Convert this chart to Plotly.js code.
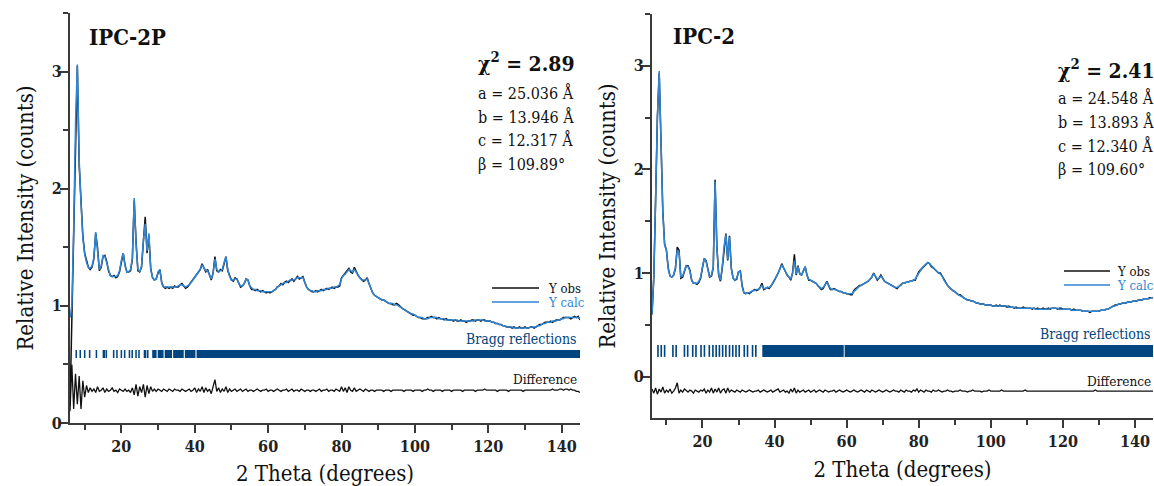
<!DOCTYPE html>
<html><head><meta charset="utf-8">
<script src="https://cdn.plot.ly/plotly-3.0.1.min.js"></script>
<style>html,body{margin:0;padding:0;background:#fff}#chart{width:1154px;height:486px}</style>
</head><body><div id="chart"></div>
<script>
// ---------- DATA ----------
const twoThetaStart = 6;      // degrees, first sample
const twoThetaStep = 0.5;     // degrees between samples

// IPC-2P (left panel)
const yObsL = [
0.15,0.90,1.60,2.50,3.05,2.20,1.90,1.60,1.45,1.38,
1.33,1.31,1.33,1.40,1.62,1.50,1.30,1.33,1.42,1.43,
1.38,1.30,1.26,1.25,1.26,1.24,1.25,1.29,1.38,1.45,
1.35,1.29,1.29,1.30,1.40,1.90,1.55,1.30,1.29,1.33,
1.55,1.76,1.45,1.60,1.32,1.24,1.22,1.23,1.28,1.31,
1.20,1.16,1.15,1.16,1.15,1.16,1.15,1.17,1.16,1.16,
1.18,1.19,1.17,1.15,1.16,1.18,1.20,1.22,1.24,1.26,
1.29,1.31,1.36,1.33,1.29,1.31,1.27,1.22,1.28,1.42,
1.30,1.29,1.31,1.30,1.36,1.42,1.30,1.25,1.22,1.21,
1.24,1.23,1.19,1.16,1.17,1.19,1.23,1.22,1.17,1.14,
1.14,1.13,1.14,1.13,1.12,1.13,1.12,1.11,1.12,1.11,
1.12,1.13,1.14,1.16,1.17,1.19,1.18,1.20,1.21,1.20,
1.22,1.23,1.21,1.23,1.25,1.23,1.24,1.25,1.20,1.16,
1.14,1.13,1.12,1.12,1.13,1.12,1.13,1.14,1.13,1.14,
1.15,1.14,1.15,1.16,1.15,1.16,1.16,1.17,1.24,1.26,
1.27,1.29,1.32,1.29,1.28,1.33,1.29,1.26,1.24,1.22,
1.21,1.22,1.24,1.19,1.14,1.11,1.09,1.08,1.07,1.06,
1.05,1.05,1.04,1.03,1.02,1.02,1.01,1.01,1.02,1.01,
0.99,0.98,0.97,0.96,0.95,0.94,0.93,0.92,0.92,0.91,
0.90,0.90,0.89,0.89,0.89,0.90,0.90,0.91,0.90,0.90,
0.89,0.90,0.89,0.89,0.88,0.89,0.88,0.88,0.88,0.87,
0.88,0.87,0.87,0.88,0.87,0.87,0.86,0.87,0.87,0.88,
0.88,0.87,0.88,0.88,0.87,0.88,0.88,0.87,0.87,0.87,
0.86,0.86,0.85,0.85,0.84,0.84,0.83,0.83,0.82,0.82,
0.82,0.81,0.82,0.81,0.81,0.82,0.81,0.81,0.82,0.81,
0.81,0.82,0.82,0.81,0.82,0.83,0.84,0.84,0.85,0.86,
0.86,0.86,0.87,0.86,0.87,0.88,0.88,0.88,0.89,0.90,
0.90,0.90,0.90,0.89,0.90,0.91,0.90,0.91,0.88];
const yCalcL = [
0.90,1.00,1.65,2.55,3.06,2.25,1.88,1.58,1.44,1.37,
1.33,1.32,1.34,1.41,1.63,1.48,1.31,1.34,1.43,1.42,
1.37,1.30,1.26,1.25,1.25,1.25,1.26,1.30,1.39,1.45,
1.34,1.29,1.29,1.31,1.41,1.92,1.53,1.31,1.29,1.34,
1.56,1.70,1.47,1.62,1.31,1.24,1.22,1.23,1.29,1.31,
1.19,1.16,1.16,1.16,1.16,1.16,1.16,1.16,1.16,1.17,
1.18,1.18,1.17,1.16,1.17,1.18,1.20,1.22,1.24,1.26,
1.29,1.31,1.35,1.33,1.30,1.30,1.27,1.23,1.28,1.40,
1.31,1.29,1.30,1.31,1.37,1.42,1.31,1.25,1.22,1.22,
1.23,1.23,1.19,1.17,1.17,1.19,1.23,1.22,1.17,1.15,
1.14,1.14,1.13,1.13,1.13,1.12,1.12,1.12,1.12,1.12,
1.12,1.13,1.14,1.16,1.17,1.18,1.19,1.20,1.20,1.21,
1.22,1.22,1.22,1.23,1.24,1.24,1.24,1.24,1.20,1.16,
1.14,1.13,1.13,1.12,1.12,1.13,1.13,1.13,1.14,1.14,
1.14,1.15,1.15,1.15,1.16,1.16,1.17,1.18,1.23,1.26,
1.27,1.29,1.31,1.30,1.29,1.31,1.29,1.26,1.24,1.22,
1.22,1.22,1.23,1.19,1.14,1.11,1.09,1.08,1.07,1.06,
1.05,1.05,1.04,1.03,1.02,1.02,1.02,1.01,1.01,1.00,
0.99,0.98,0.97,0.96,0.95,0.94,0.93,0.93,0.92,0.91,
0.90,0.90,0.90,0.89,0.89,0.89,0.90,0.90,0.90,0.90,
0.90,0.89,0.89,0.89,0.89,0.88,0.88,0.88,0.88,0.88,
0.88,0.88,0.87,0.87,0.87,0.87,0.87,0.87,0.87,0.87,
0.87,0.88,0.88,0.88,0.88,0.88,0.87,0.87,0.87,0.87,
0.86,0.86,0.85,0.85,0.84,0.84,0.83,0.83,0.82,0.82,
0.82,0.82,0.81,0.81,0.81,0.81,0.81,0.81,0.81,0.81,
0.81,0.82,0.82,0.82,0.82,0.83,0.83,0.84,0.85,0.85,
0.86,0.86,0.86,0.87,0.87,0.87,0.88,0.88,0.89,0.89,
0.90,0.90,0.90,0.90,0.90,0.90,0.90,0.90,0.89];
const yDiffL = [
0.10,0.50,0.12,0.42,0.16,0.40,0.12,0.36,0.22,0.32,
0.26,0.30,0.27,0.29,0.26,0.31,0.27,0.28,0.30,0.26,
0.29,0.27,0.28,0.30,0.27,0.28,0.26,0.29,0.28,0.27,
0.29,0.27,0.28,0.26,0.30,0.24,0.33,0.23,0.31,0.26,
0.33,0.22,0.32,0.25,0.31,0.27,0.29,0.27,0.29,0.28,
0.27,0.29,0.28,0.27,0.29,0.28,0.27,0.29,0.28,0.28,
0.27,0.29,0.28,0.27,0.28,0.29,0.27,0.28,0.30,0.26,
0.29,0.27,0.31,0.26,0.30,0.27,0.29,0.25,0.31,0.37,
0.27,0.30,0.26,0.29,0.27,0.31,0.26,0.29,0.27,0.28,
0.29,0.27,0.28,0.29,0.27,0.28,0.29,0.27,0.28,0.28,
0.27,0.28,0.29,0.28,0.27,0.28,0.28,0.29,0.27,0.28,
0.28,0.27,0.28,0.29,0.28,0.27,0.28,0.28,0.29,0.27,
0.28,0.29,0.27,0.28,0.28,0.27,0.29,0.28,0.27,0.28,
0.28,0.27,0.28,0.28,0.27,0.28,0.29,0.27,0.28,0.28,
0.29,0.27,0.28,0.28,0.27,0.29,0.28,0.27,0.31,0.27,
0.30,0.26,0.31,0.28,0.27,0.30,0.27,0.28,0.29,0.28,
0.27,0.29,0.28,0.27,0.28,0.28,0.27,0.28,0.28,0.28,
0.28,0.27,0.28,0.28,0.28,0.27,0.28,0.28,0.28,0.28,
0.28,0.28,0.27,0.28,0.28,0.28,0.28,0.27,0.28,0.28,
0.28,0.28,0.27,0.28,0.28,0.29,0.28,0.28,0.27,0.28,
0.28,0.28,0.28,0.27,0.28,0.28,0.28,0.28,0.27,0.28,
0.28,0.28,0.28,0.28,0.27,0.28,0.28,0.28,0.28,0.28,
0.28,0.27,0.28,0.28,0.28,0.28,0.29,0.28,0.28,0.28,
0.28,0.28,0.28,0.27,0.28,0.28,0.28,0.28,0.28,0.27,
0.28,0.28,0.28,0.28,0.28,0.28,0.28,0.27,0.28,0.28,
0.28,0.28,0.28,0.28,0.28,0.28,0.28,0.28,0.28,0.28,
0.28,0.28,0.28,0.29,0.28,0.28,0.28,0.29,0.29,0.28,
0.29,0.29,0.28,0.29,0.28,0.28,0.27,0.27,0.26];
const braggTicksL = [7.7,8.8,10.0,11.35,13.2,15.1,15.35,15.9,17.9,18.8,20.0,20.9,22.2,22.95,24.0,24.8,26.3,26.6,27.2];
const braggBandsL = [[28.4,29.6],[29.9,31.5],[31.8,33.8],[34.1,37.0],[37.3,40.2],[40.5,145]];

// IPC-2 (right panel)
const yObsR = [
0.60,0.95,1.70,2.50,2.93,2.30,1.60,1.28,1.22,1.05,
0.97,0.96,0.98,1.04,1.25,1.22,0.95,0.96,1.03,1.07,
1.07,1.03,0.93,0.90,0.90,0.89,0.91,0.95,1.05,1.14,
1.12,1.04,0.96,0.97,1.05,1.90,1.25,0.98,0.92,1.05,
1.25,1.38,1.12,1.36,1.05,0.95,0.93,0.94,1.01,1.02,
0.88,0.81,0.80,0.81,0.80,0.82,0.83,0.84,0.83,0.84,
0.86,0.90,0.84,0.85,0.86,0.85,0.87,0.90,0.93,0.96,
1.00,1.04,1.09,1.05,1.01,0.98,0.96,0.93,1.00,1.18,
0.98,1.07,0.99,0.98,1.02,1.06,0.98,0.93,0.93,0.92,
0.91,0.90,0.88,0.86,0.84,0.85,0.89,0.92,0.88,0.84,
0.84,0.85,0.84,0.83,0.82,0.82,0.81,0.81,0.80,0.80,
0.79,0.79,0.83,0.85,0.86,0.88,0.88,0.89,0.90,0.91,
0.92,0.94,0.96,1.00,0.97,0.93,0.95,0.98,0.95,0.92,
0.91,0.90,0.89,0.88,0.87,0.86,0.85,0.87,0.89,0.90,
0.90,0.91,0.91,0.92,0.92,0.93,0.93,0.97,1.01,1.03,
1.05,1.07,1.09,1.10,1.09,1.06,1.05,1.03,1.01,1.00,
1.00,0.97,0.93,0.90,0.88,0.86,0.84,0.83,0.82,0.80,
0.79,0.79,0.77,0.76,0.75,0.74,0.74,0.73,0.73,0.72,
0.71,0.71,0.70,0.70,0.70,0.69,0.69,0.69,0.69,0.68,
0.68,0.69,0.68,0.69,0.68,0.68,0.68,0.67,0.68,0.67,
0.67,0.66,0.67,0.66,0.66,0.66,0.67,0.66,0.66,0.66,
0.66,0.65,0.66,0.65,0.66,0.65,0.65,0.66,0.65,0.65,
0.66,0.65,0.66,0.66,0.66,0.65,0.66,0.66,0.65,0.65,
0.65,0.65,0.65,0.64,0.65,0.64,0.64,0.64,0.64,0.63,
0.63,0.63,0.63,0.62,0.63,0.63,0.63,0.63,0.63,0.64,
0.64,0.64,0.65,0.65,0.66,0.67,0.68,0.69,0.69,0.70,
0.70,0.71,0.71,0.71,0.72,0.72,0.72,0.73,0.73,0.73,
0.74,0.74,0.74,0.75,0.75,0.75,0.76,0.76,0.76];
const yCalcR = [
0.60,0.97,1.72,2.52,2.95,2.30,1.58,1.27,1.22,1.04,
0.97,0.96,0.98,1.05,1.22,1.20,0.96,0.97,1.03,1.07,
1.06,1.02,0.93,0.90,0.90,0.90,0.92,0.96,1.06,1.14,
1.11,1.03,0.96,0.98,1.06,1.88,1.24,0.99,0.93,1.06,
1.26,1.37,1.13,1.35,1.04,0.95,0.93,0.95,1.01,1.02,
0.87,0.81,0.80,0.81,0.81,0.82,0.83,0.83,0.84,0.84,
0.86,0.88,0.85,0.85,0.86,0.86,0.87,0.90,0.93,0.96,
1.00,1.04,1.08,1.05,1.01,0.98,0.96,0.94,1.00,1.12,
0.99,1.06,0.99,0.98,1.02,1.06,0.98,0.94,0.93,0.92,
0.91,0.90,0.88,0.86,0.85,0.86,0.89,0.91,0.88,0.85,
0.84,0.84,0.84,0.83,0.82,0.82,0.81,0.81,0.80,0.80,
0.80,0.80,0.82,0.84,0.86,0.87,0.88,0.89,0.90,0.91,
0.92,0.94,0.96,0.99,0.97,0.94,0.95,0.97,0.95,0.92,
0.91,0.90,0.89,0.88,0.87,0.86,0.86,0.87,0.88,0.90,
0.90,0.91,0.91,0.92,0.92,0.93,0.94,0.97,1.00,1.03,
1.05,1.07,1.09,1.10,1.09,1.07,1.05,1.03,1.01,1.00,
0.99,0.97,0.93,0.90,0.88,0.86,0.84,0.83,0.82,0.80,
0.79,0.78,0.77,0.76,0.75,0.74,0.74,0.73,0.73,0.72,
0.71,0.71,0.70,0.70,0.70,0.69,0.69,0.69,0.69,0.68,
0.68,0.68,0.68,0.68,0.68,0.68,0.68,0.68,0.67,0.67,
0.67,0.67,0.66,0.66,0.66,0.66,0.66,0.66,0.66,0.66,
0.66,0.66,0.66,0.65,0.65,0.65,0.65,0.65,0.65,0.65,
0.65,0.66,0.66,0.66,0.66,0.66,0.65,0.65,0.65,0.65,
0.65,0.65,0.65,0.64,0.64,0.64,0.64,0.64,0.64,0.63,
0.63,0.63,0.63,0.63,0.63,0.63,0.63,0.63,0.63,0.64,
0.64,0.64,0.65,0.65,0.66,0.67,0.68,0.68,0.69,0.70,
0.70,0.71,0.71,0.71,0.72,0.72,0.72,0.73,0.73,0.73,
0.74,0.74,0.74,0.75,0.75,0.75,0.75,0.76,0.76];
const yDiffR = [
-0.12,-0.16,-0.11,-0.17,-0.12,-0.15,-0.10,-0.16,-0.13,-0.15,
-0.12,-0.16,-0.14,-0.11,-0.06,-0.16,-0.13,-0.15,-0.12,-0.14,
-0.15,-0.13,-0.14,-0.16,-0.13,-0.14,-0.15,-0.13,-0.14,-0.12,
-0.16,-0.13,-0.15,-0.11,-0.16,-0.12,-0.15,-0.11,-0.16,-0.13,
-0.12,-0.16,-0.11,-0.15,-0.13,-0.14,-0.15,-0.13,-0.14,-0.15,
-0.13,-0.14,-0.15,-0.14,-0.13,-0.14,-0.15,-0.14,-0.14,-0.13,
-0.15,-0.14,-0.13,-0.14,-0.15,-0.14,-0.13,-0.15,-0.14,-0.13,
-0.12,-0.15,-0.14,-0.13,-0.15,-0.14,-0.16,-0.12,-0.15,-0.11,
-0.16,-0.13,-0.15,-0.14,-0.13,-0.15,-0.14,-0.13,-0.15,-0.14,
-0.13,-0.15,-0.14,-0.13,-0.14,-0.15,-0.13,-0.14,-0.15,-0.14,
-0.14,-0.13,-0.15,-0.14,-0.13,-0.14,-0.15,-0.14,-0.13,-0.14,
-0.15,-0.14,-0.13,-0.14,-0.15,-0.14,-0.13,-0.14,-0.15,-0.13,
-0.14,-0.15,-0.13,-0.14,-0.15,-0.14,-0.13,-0.14,-0.15,-0.14,
-0.13,-0.14,-0.15,-0.14,-0.13,-0.14,-0.14,-0.15,-0.13,-0.14,
-0.15,-0.13,-0.14,-0.14,-0.15,-0.13,-0.14,-0.12,-0.15,-0.13,
-0.14,-0.15,-0.13,-0.14,-0.14,-0.15,-0.13,-0.14,-0.14,-0.13,
-0.14,-0.15,-0.14,-0.14,-0.13,-0.14,-0.14,-0.15,-0.14,-0.14,
-0.14,-0.13,-0.14,-0.14,-0.14,-0.15,-0.14,-0.14,-0.13,-0.14,
-0.14,-0.14,-0.14,-0.15,-0.14,-0.14,-0.14,-0.13,-0.14,-0.14,
-0.14,-0.14,-0.14,-0.14,-0.13,-0.14,-0.14,-0.14,-0.14,-0.14,
-0.14,-0.14,-0.14,-0.14,-0.14,-0.14,-0.14,-0.13,-0.14,-0.14,
-0.14,-0.14,-0.14,-0.14,-0.14,-0.14,-0.14,-0.14,-0.14,-0.14,
-0.14,-0.14,-0.14,-0.14,-0.14,-0.14,-0.14,-0.14,-0.14,-0.14,
-0.14,-0.14,-0.14,-0.14,-0.14,-0.14,-0.14,-0.14,-0.14,-0.14,
-0.14,-0.14,-0.14,-0.14,-0.14,-0.14,-0.13,-0.14,-0.14,-0.14,
-0.14,-0.14,-0.14,-0.14,-0.14,-0.14,-0.14,-0.14,-0.14,-0.14,
-0.14,-0.14,-0.14,-0.14,-0.14,-0.14,-0.14,-0.14,-0.14,-0.14,
-0.14,-0.14,-0.14,-0.14,-0.14,-0.14,-0.14,-0.14,-0.14];
const braggTicksR = [7.66,8.57,9.5,11.8,12.7,15.0,15.9,17.3,18.2,19.6,20.55,21.9,22.9,23.8,24.7,25.6,26.5,27.5,28.4,29.3,30.2,31.6,32.5,33.9,34.8];
const braggBandsR = [[36.6,59.2],[59.45,145]];

const xTickVals = [20,40,60,80,100,120,140];
const xMinorVals = [10,30,50,70,90,110,130];
const yTickVals = [0,1,2,3];
const yMinorVals = [0.5,1.5,2.5,3.5];

const labelL = {sample:'IPC-2P', chi2:'2.89', a:'25.036', b:'13.946', c:'12.317', beta:'109.89'};
const labelR = {sample:'IPC-2', chi2:'2.41', a:'24.548', b:'13.893', c:'12.340', beta:'109.60'};

// ---------- STYLE ----------
const W = 1154, H = 486;
const FONT = "'DejaVu Serif Condensed', 'DejaVu Serif', serif";
const OBS = '#111111', CALC = '#2f86d6', BRAGG = '#00457f', AXIS = '#3a3a3a';
const px = v => v / W, py = v => 1 - v / H;

function lineTrace(y, color, width, xa, ya, name) {
  return {type:'scatter', mode:'lines', x0: twoThetaStart, dx: twoThetaStep, y: y,
    line:{color: color, width: width}, xaxis: xa, yaxis: ya, name: name, showlegend:false, hoverinfo:'skip'};
}
function braggTrace(ticks, bands, xa, ya, base, height, tickW) {
  const xs = [], ws = [];
  ticks.forEach(t => { xs.push(t); ws.push(tickW); });
  bands.forEach(b => { xs.push((b[0] + b[1]) / 2); ws.push(b[1] - b[0]); });
  return {type:'bar', x: xs, y: xs.map(() => height), base: base, width: ws,
    marker:{color: BRAGG, line:{width:0}}, xaxis: xa, yaxis: ya, showlegend:false, hoverinfo:'skip'};
}

const traces = [
  braggTrace(braggTicksL, braggBandsL, 'x', 'y', 0.555, 0.068, 0.42),
  lineTrace(yObsL, OBS, 1.5, 'x', 'y', 'Y obs'),
  lineTrace(yCalcL, CALC, 1.5, 'x', 'y', 'Y calc'),
  lineTrace(yDiffL, OBS, 1.3, 'x', 'y', 'Difference'),
  braggTrace(braggTicksR, braggBandsR, 'x2', 'y2', 0.19, 0.115, 0.45),
  lineTrace(yObsR, OBS, 1.5, 'x2', 'y2', 'Y obs'),
  lineTrace(yCalcR, CALC, 1.5, 'x2', 'y2', 'Y calc'),
  lineTrace(yDiffR, OBS, 1.3, 'x2', 'y2', 'Difference')
];

function xAxis(domain, anchor) {
  return {domain: domain, anchor: anchor, range:[6,145], showline:true, linecolor:AXIS, linewidth:2,
    ticks:'outside', ticklen:8, tickwidth:2, tickcolor:AXIS, tickvals:xTickVals,
    minor:{tickvals:xMinorVals, ticks:'outside', ticklen:5, tickwidth:2, tickcolor:AXIS},
    showgrid:false, zeroline:false, automargin:false,
    tickfont:{family:FONT, size:16, color:'#222', weight:'bold'},
    title:{text:'2 Theta (degrees)', font:{family:FONT, size:22, color:'#111'}, standoff:11}};
}
function yAxis(domain, anchor, range) {
  return {domain: domain, anchor: anchor, range: range, showline:true, linecolor:AXIS, linewidth:2,
    ticks:'outside', ticklen:8, tickwidth:2, tickcolor:AXIS, tickvals:yTickVals,
    minor:{tickvals:yMinorVals, ticks:'outside', ticklen:5, tickwidth:2, tickcolor:AXIS},
    showgrid:false, zeroline:false, automargin:false, ticklabelstandoff:-5,
    tickfont:{family:FONT, size:16, color:'#222', weight:'bold'},
    title:{text:'Relative Intensity (counts)', font:{family:FONT, size:22, color:'#111'}, standoff:12}};
}

function ann(text, x, y, size, color, xanchor, bold) {
  return {text: bold ? '<b>' + text + '</b>' : text, xref:'paper', yref:'paper', x: px(x), y: py(y),
    xanchor: xanchor, yanchor:'middle', showarrow:false, font:{family:FONT, size:size, color:color}};
}
function panelText(lab, sx, sy, cx, ys, legTextX, legY, braggY, diffY, rightX) {
  return [
    ann(lab.sample, sx, sy, 22, '#111', 'left', true),
    ann('χ<sup>2</sup> = ' + lab.chi2, cx, ys[0], 21, '#111', 'left', true),
    ann('a = ' + lab.a + ' Å', cx, ys[1], 16, '#111', 'left', false),
    ann('b = ' + lab.b + ' Å', cx, ys[2], 16, '#111', 'left', false),
    ann('c = ' + lab.c + ' Å', cx, ys[3], 16, '#111', 'left', false),
    ann('β = ' + lab.beta + '°', cx, ys[4], 16, '#111', 'left', false),
    ann('Y obs', legTextX, legY[0], 13, '#111', 'left', false),
    ann('Y calc', legTextX, legY[1], 13, CALC, 'left', false),
    ann('Bragg reflections', rightX, braggY, 14, BRAGG, 'right', false),
    ann('Difference', rightX, diffY, 13.5, '#111', 'right', false)
  ];
}
function legLine(x0, x1, y, color) {
  return {type:'line', xref:'paper', yref:'paper', x0:px(x0), x1:px(x1), y0:py(y), y1:py(y), line:{color:color, width:1.5}};
}

const layout = {
  width: W, height: H, margin:{l:0, r:0, t:0, b:0}, paper_bgcolor:'#fff', plot_bgcolor:'rgba(0,0,0,0)',
  showlegend:false, barmode:'overlay', font:{family:FONT},
  xaxis: xAxis([px(70), px(580)], 'y'),
  yaxis: yAxis([1 - 423 / H, 1 - 13 / H], 'x', [0, 3.5]),
  xaxis2: xAxis([px(652), px(1153)], 'y2'),
  yaxis2: yAxis([1 - 418 / H, 1 - 14 / H], 'x2', [-0.4, 3.5]),
  annotations: [].concat(
    panelText(labelL, 87, 37, 476, [62, 93, 117, 140, 164], 546, [288, 302], 339, 379, 579),
    panelText(labelR, 671, 36, 1056, [69, 98.5, 122.5, 146, 169], 1115, [271, 285], 334, 381, 1153)
  ),
  shapes: [
    legLine(492, 539, 288, OBS), legLine(492, 539, 302, CALC),
    legLine(1064, 1110, 271, OBS), legLine(1064, 1110, 285, CALC)
  ]
};

Plotly.newPlot('chart', traces, layout, {displayModeBar:false, staticPlot:true});
</script>
</body></html>
